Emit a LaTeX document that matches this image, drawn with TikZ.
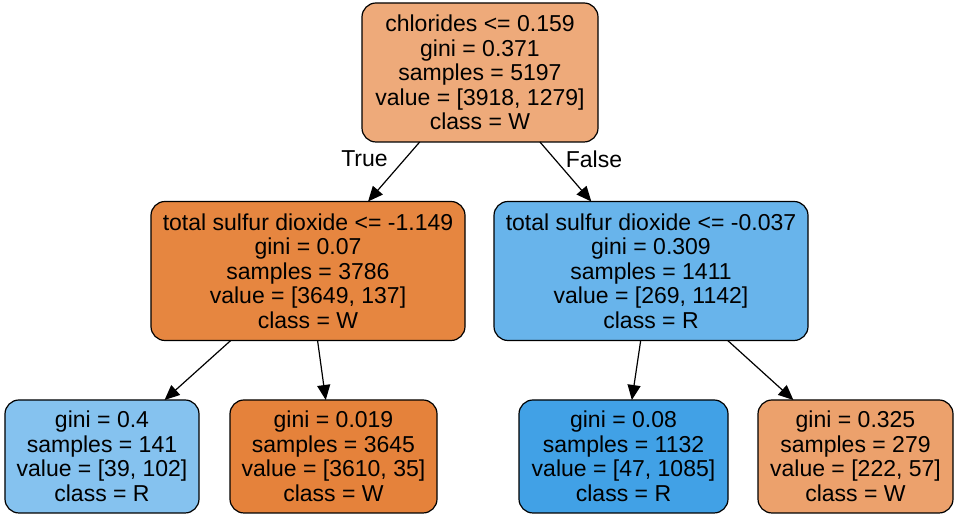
\documentclass[tikz,border=0pt]{standalone}
\usepackage{fontspec}
\setmainfont{Liberation Sans}
\usetikzlibrary{arrows.meta}
\definecolor{cRoot}{RGB}{238,170,122}
\definecolor{cL}{RGB}{230,134,64}
\definecolor{cR}{RGB}{104,180,235}
\definecolor{cLL}{RGB}{133,194,239}
\definecolor{cLR}{RGB}{229,130,59}
\definecolor{cRL}{RGB}{65,161,230}
\definecolor{cRR}{RGB}{236,161,108}
\tikzset{
  treenode/.style={draw=black, line width=1.2bp, rounded corners=14bp, rectangle,
    align=center, inner sep=0pt, outer sep=0pt,
    font=\fontsize{23.1}{24.6}\selectfont},
  inner/.style={treenode, minimum height=139bp},
  leaf/.style={treenode, minimum height=113bp},
  edge/.style={line width=1.2bp, -{Triangle[length=15bp,width=13bp]}},
  edgelabel/.style={font=\fontsize{23.1}{24.6}\selectfont, inner sep=0pt}
}
\begin{document}
\begin{tikzpicture}[x=1bp,y=1bp]
\useasboundingbox (0,0) rectangle (957,519);
\node[inner, fill=cRoot, minimum width=236bp] (root) at (480,446.5)
  {chlorides <= 0.159\\gini = 0.371\\samples = 5197\\value = [3918, 1279]\\class = W};
\node[inner, fill=cL, minimum width=314bp] (left) at (308,248)
  {total sulfur dioxide <= -1.149\\gini = 0.07\\samples = 3786\\value = [3649, 137]\\class = W};
\node[inner, fill=cR, minimum width=314bp] (right) at (651,248)
  {total sulfur dioxide <= -0.037\\gini = 0.309\\samples = 1411\\value = [269, 1142]\\class = R};
\node[leaf, fill=cLL, minimum width=194bp] (ll) at (102,62.5)
  {gini = 0.4\\samples = 141\\value = [39, 102]\\class = R};
\node[leaf, fill=cLR, minimum width=207bp] (lr) at (333.5,62.5)
  {gini = 0.019\\samples = 3645\\value = [3610, 35]\\class = W};
\node[leaf, fill=cRL, minimum width=209bp] (rl) at (623.5,62.5)
  {gini = 0.08\\samples = 1132\\value = [47, 1085]\\class = R};
\node[leaf, fill=cRR, minimum width=195bp] (rr) at (855.5,62.5)
  {gini = 0.325\\samples = 279\\value = [222, 57]\\class = W};
\draw[edge] (root) -- (left);
\draw[edge] (root) -- (right);
\draw[edge] (left) -- (ll);
\draw[edge] (left) -- (lr);
\draw[edge] (right) -- (rl);
\draw[edge] (right) -- (rr);
\node[edgelabel] (t) at (364.5,360) {True};
\node[edgelabel] (f) at (594,360) {False};
\end{tikzpicture}
\end{document}
